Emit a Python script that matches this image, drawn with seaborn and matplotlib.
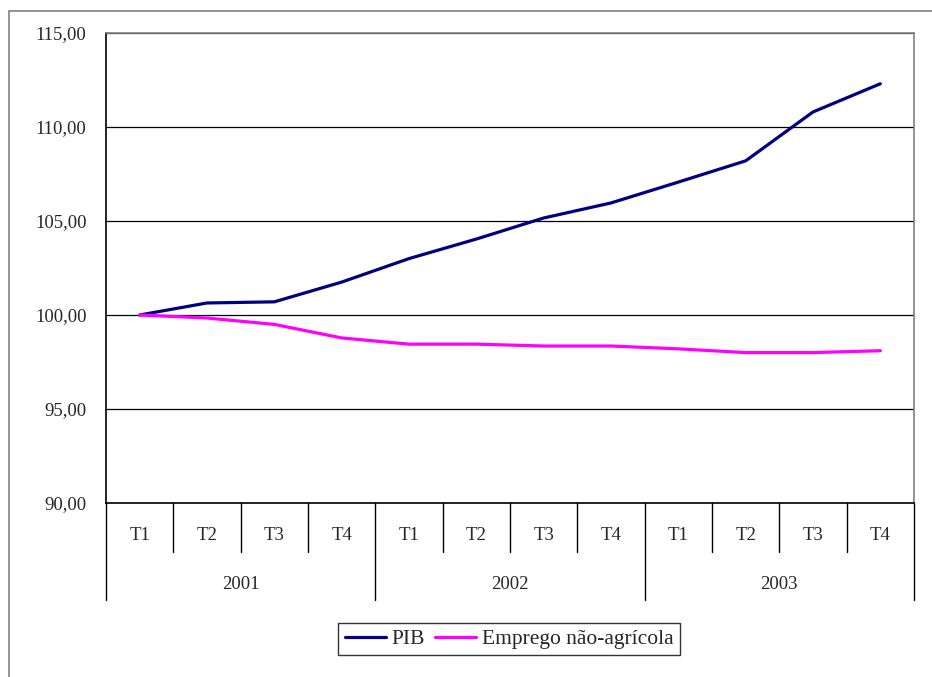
import numpy as np
import pandas as pd
import matplotlib
matplotlib.use('Agg')
import matplotlib.pyplot as plt
import matplotlib.transforms as mtransforms
from matplotlib.patches import Rectangle
import seaborn as sns

# Data (index, 2001 T1 = 100)
years = ['2001', '2002', '2003']
quarters = ['T1', 'T2', 'T3', 'T4']
pib = [100.00, 100.64, 100.70, 101.75, 103.00, 104.04,
       105.16, 105.96, 107.07, 108.20, 110.80, 112.30]
emprego = [100.00, 99.84, 99.50, 98.78, 98.45, 98.45,
           98.35, 98.35, 98.20, 98.00, 98.00, 98.10]
series_names = ['PIB', 'Emprego não-agrícola']
colors = ['#000080', '#FF00FF']

n = len(pib)
df = pd.DataFrame({
    'pos': list(range(n)) * 2,
    'valor': pib + emprego,
    'serie': [series_names[0]] * n + [series_names[1]] * n,
})

sns.set_style('white')
plt.rcParams['font.family'] = ['Liberation Serif', 'DejaVu Serif']

fig = plt.figure(figsize=(9.32, 6.77), dpi=100)
ax = fig.add_axes([106 / 932, 1 - 503 / 677, 808 / 932, 470 / 677])

sns.lineplot(data=df, x='pos', y='valor', hue='serie', hue_order=series_names,
             palette=dict(zip(series_names, colors)), linewidth=2.3,
             sort=False, legend=False, ax=ax)

# y axis
ax.set_ylim(90, 115)
ax.set_yticks(np.arange(90, 116, 5))
ax.set_yticklabels([f'{v:.2f}'.replace('.', ',') for v in np.arange(90, 116, 5)], fontsize=13.5)
ax.tick_params(axis='y', direction='out', length=6, width=1, color='black', pad=8)
ax.yaxis.grid(True, color='black', linewidth=0.9)
ax.set_axisbelow(True)
ax.set_ylabel('')

# x axis: two-level categories drawn by hand
ax.set_xlim(-0.5, n - 0.5)
ax.set_xticks([])
ax.set_xlabel('')

for side in ['top', 'right']:
    ax.spines[side].set_color('#808080')
    ax.spines[side].set_linewidth(1.2)
for side in ['left', 'bottom']:
    ax.spines[side].set_color('black')
    ax.spines[side].set_linewidth(1.2)

trans = mtransforms.blended_transform_factory(ax.transData, ax.transAxes)
for i in range(n + 1):
    xb = i - 0.5
    bottom = -0.206 if i % 4 == 0 else -0.104
    ax.plot([xb, xb], [0, bottom], transform=trans, color='black',
            linewidth=1, clip_on=False)
for i in range(n):
    ax.text(i, -0.070, quarters[i % 4], transform=trans, ha='center',
            va='center', fontsize=13.5)
for j, yr in enumerate(years):
    ax.text(j * 4 + 1.5, -0.174, yr, transform=trans, ha='center',
            va='center', fontsize=13.5)

# legend
handles = ax.get_lines()[:2]
leg = fig.legend(handles, series_names, loc='center', bbox_to_anchor=(509 / 932, 1 - 639 / 677),
                 ncol=2, frameon=True, fancybox=False, edgecolor='black',
                 fontsize=15.5, handlelength=1.9, handletextpad=0.25,
                 columnspacing=0.5, borderpad=0.3, borderaxespad=0)
leg.get_frame().set_linewidth(1)

# chart border
fig.patches.append(Rectangle((9 / 932, -0.1), 1.2, 1 - 11 / 677 + 0.1,
                             transform=fig.transFigure, fill=False,
                             edgecolor='#808080', linewidth=1.2))

fig.savefig('out.png', dpi=100, facecolor='white')
